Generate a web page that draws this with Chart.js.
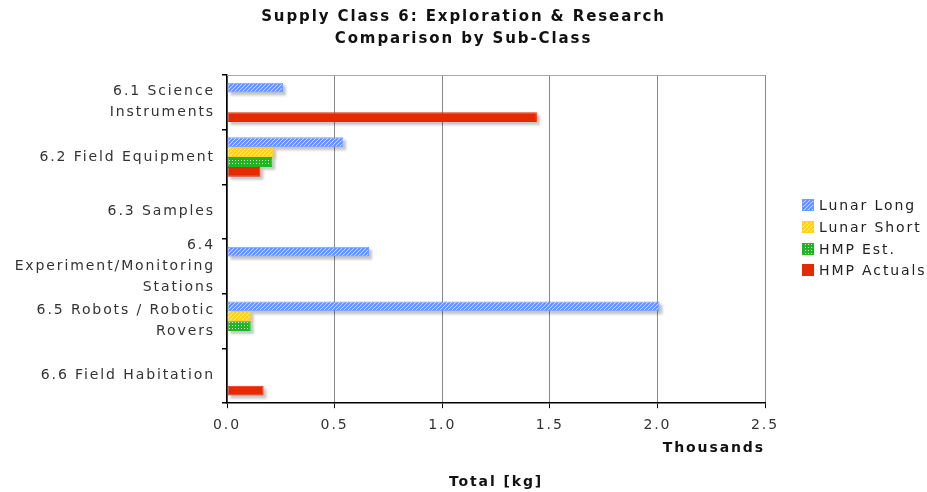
<!DOCTYPE html>
<html>
<head>
<meta charset="utf-8">
<script src="https://cdn.jsdelivr.net/npm/chart.js@4/dist/chart.umd.min.js"></script>
<style>
  html, body { margin: 0; padding: 0; background: #fff; }
  canvas { display: block; }
</style>
</head>
<body>
<canvas id="chart" width="927" height="492"></canvas>
<script>
// Sub-class categories (multi-line labels)
const categories = [
  ['6.1 Science', 'Instruments'],
  '6.2 Field Equipment',
  '6.3 Samples',
  ['6.4', 'Experiment/Monitoring', 'Stations'],
  ['6.5 Robots / Robotic', 'Rovers'],
  '6.6 Field Habitation'
];

const seriesNames = ['Lunar Long', 'Lunar Short', 'HMP Est.', 'HMP Actuals'];

// Totals in thousands of kg
const lunarLong  = [0.26, 0.54, null, 0.66, 2.01, null];
const lunarShort = [null, 0.215, null, null, 0.11, null];
const hmpEst     = [null, 0.21, null, null, 0.11, null];
const hmpActuals = [1.44, 0.155, null, null, null, 0.17];

const xTickValues = [0, 0.5, 1.0, 1.5, 2.0, 2.5];

const FONT = '"DejaVu Sans", Verdana, sans-serif';
const SPACING = '1.9px';

// Fill patterns
function stripePattern(bg, fg, width) {
  const c = document.createElement('canvas');
  c.width = 4; c.height = 4;
  const g = c.getContext('2d');
  g.fillStyle = bg;
  g.fillRect(0, 0, 4, 4);
  g.strokeStyle = fg;
  g.lineWidth = width;
  g.beginPath();
  g.moveTo(-1, 5); g.lineTo(5, -1);
  g.moveTo(-1, 1); g.lineTo(1, -1);
  g.moveTo(3, 5); g.lineTo(5, 3);
  g.stroke();
  return g.createPattern(c, 'repeat');
}
function dotPattern(bg, dot) {
  const c = document.createElement('canvas');
  c.width = 3; c.height = 3;
  const g = c.getContext('2d');
  g.fillStyle = bg;
  g.fillRect(0, 0, 3, 3);
  g.fillStyle = dot;
  g.fillRect(1, 1, 1, 1);
  return g.createPattern(c, 'repeat');
}

const fills = [
  stripePattern('#eef3ff', '#5f8fff', 2.2),
  stripePattern('#fff7cc', '#ffcf10', 2.2),
  dotPattern('#22b422', 'rgba(255,255,255,0.85)'),
  '#e62a00'
];
const borders = ['#6f9cff', '#ffd21f', '#22b422', '#e62a00'];
const seriesValues = [lunarLong, lunarShort, hmpEst, hmpActuals];

// Text letter spacing for every label
const spacingPlugin = {
  id: 'spacing',
  beforeLayout(chart) { chart.ctx.letterSpacing = SPACING; },
  beforeDraw(chart) { chart.ctx.letterSpacing = SPACING; }
};

// Top frame line and drop shadows under the bars
const shadowPlugin = {
  id: 'barShadows',
  beforeDatasetsDraw(chart) {
    const ctx = chart.ctx;
    const a = chart.chartArea;
    ctx.save();
    ctx.strokeStyle = '#a8a8a8';
    ctx.lineWidth = 1;
    ctx.beginPath();
    ctx.moveTo(a.left, a.top + 0.5);
    ctx.lineTo(a.right, a.top + 0.5);
    ctx.stroke();

    ctx.fillStyle = 'rgba(0,0,0,0.22)';
    ctx.filter = 'blur(1px)';
    chart.data.datasets.forEach((ds, i) => {
      const meta = chart.getDatasetMeta(i);
      meta.data.forEach((el, j) => {
        if (ds.data[j] == null) return;
        const p = el.getProps(['x', 'y', 'base', 'height'], true);
        const x0 = Math.min(p.x, p.base), x1 = Math.max(p.x, p.base);
        ctx.fillRect(x0 + 3, p.y - p.height / 2 + 3, x1 - x0, p.height);
      });
    });
    ctx.restore();
  }
};

// Legend to the right of the plot
const sideLegend = {
  id: 'sideLegend',
  afterDraw(chart) {
    const ctx = chart.ctx;
    const a = chart.chartArea;
    const step = 21.9;
    const n = chart.data.datasets.length;
    const y0 = (a.top + a.bottom) / 2 - step * (n - 1) / 2 - 1.5;
    const bx = a.right + 37;
    ctx.save();
    ctx.letterSpacing = SPACING;
    ctx.font = '14px ' + FONT;
    ctx.textBaseline = 'middle';
    ctx.textAlign = 'left';
    chart.data.datasets.forEach((ds, i) => {
      const y = Math.round(y0 + i * step);
      ctx.fillStyle = ds.backgroundColor;
      ctx.fillRect(bx, y - 6, 12, 12);
      ctx.strokeStyle = ds.borderColor;
      ctx.lineWidth = 1;
      ctx.strokeRect(bx + 0.5, y - 5.5, 11, 11);
      ctx.fillStyle = '#222';
      ctx.fillText(ds.label, bx + 17, y + 1);
    });
    ctx.restore();
  }
};

new Chart(document.getElementById('chart'), {
  type: 'bar',
  data: {
    labels: categories,
    datasets: seriesNames.map((name, i) => ({
      label: name,
      data: seriesValues[i],
      backgroundColor: fills[i],
      borderColor: borders[i],
      borderWidth: 1,
      borderSkipped: false,
      categoryPercentage: 0.72,
      barPercentage: 1.0
    }))
  },
  options: {
    indexAxis: 'y',
    responsive: false,
    animation: false,
    devicePixelRatio: 1,
    layout: { padding: 0 },
    plugins: {
      legend: { display: false },
      tooltip: { enabled: false },
      title: {
        display: true,
        text: ['Supply Class 6: Exploration & Research', 'Comparison by Sub-Class'],
        color: '#111',
        font: { family: FONT, size: 15, weight: 'bold', lineHeight: 1.467 },
        padding: { top: 6, bottom: 25 }
      },
      subtitle: {
        display: true,
        position: 'bottom',
        fullSize: false,
        text: 'Total [kg]',
        color: '#111',
        font: { family: FONT, size: 14, weight: 'bold', lineHeight: 1.2 },
        padding: { top: 0, bottom: 1 }
      }
    },
    scales: {
      x: {
        type: 'linear',
        min: 0,
        max: 2.5,
        afterBuildTicks(scale) { scale.ticks = xTickValues.map(v => ({ value: v })); },
        afterFit(scale) { scale.height = 71; },
        ticks: {
          color: '#333',
          font: { family: FONT, size: 14 },
          padding: 9,
          callback: v => Number(v).toFixed(1)
        },
        grid: { color: '#888', lineWidth: 1, tickColor: '#000', tickLength: 5 },
        border: { color: '#000', width: 1.5 },
        title: {
          display: true,
          text: 'Thousands',
          align: 'end',
          color: '#111',
          font: { family: FONT, size: 14, weight: 'bold' },
          padding: { top: 0, bottom: 17 }
        }
      },
      y: {
        type: 'category',
        offset: true,
        afterFit(scale) { scale.width = 227; },
        ticks: {
          color: '#333',
          font: { family: FONT, size: 14, lineHeight: 1.5 },
          padding: 7,
          autoSkip: false
        },
        grid: {
          display: true,
          offset: true,
          drawOnChartArea: false,
          drawTicks: true,
          tickLength: 5,
          color: '#000',
          lineWidth: 1.5
        },
        border: { color: '#000', width: 1.5 }
      },
      // empty right-hand gutter that holds the legend
      legendGutter: {
        type: 'linear',
        axis: 'y',
        position: 'right',
        display: true,
        afterFit(scale) { scale.width = 162; },
        ticks: { display: false },
        grid: { display: false, drawTicks: false },
        border: { display: false }
      }
    }
  },
  plugins: [spacingPlugin, shadowPlugin, sideLegend]
});
</script>
</body>
</html>
